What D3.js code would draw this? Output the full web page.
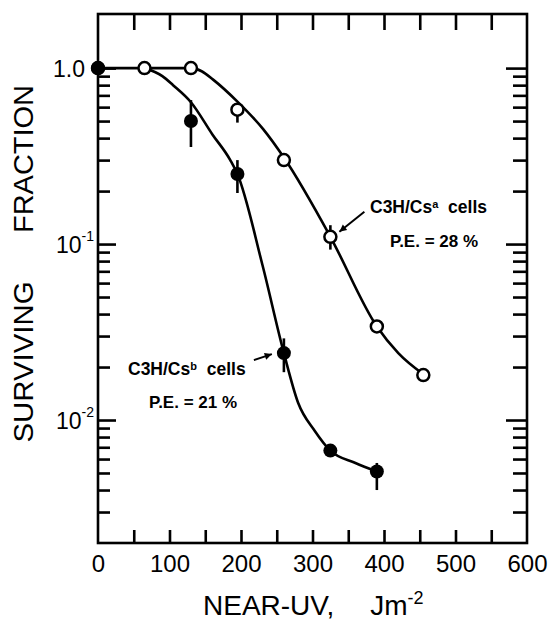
<!DOCTYPE html>
<html><head><meta charset="utf-8">
<script src="https://cdn.jsdelivr.net/npm/d3@7"></script>
<style>
html,body{margin:0;padding:0;background:#fff;}
svg{display:block;}
text{font-family:"Liberation Sans",Arial,sans-serif;fill:#000;}
</style></head>
<body>
<svg id="chart" width="548" height="621"></svg>
<script>
// ---- data ----
const dosesA = [0, 65, 130, 195, 260, 325, 390, 455];          // C3H/Csa (open)
const fracA  = [1.0, 1.0, 1.0, 0.58, 0.30, 0.110, 0.034, 0.018];
const errLoA = [null, null, null, 0.49, null, 0.093, null, null];
const errHiA = [null, null, null, 0.62, null, 0.128, null, null];

const dosesB = [0, 130, 195, 260, 325, 390];                    // C3H/Csb (filled)
const fracB  = [1.0, 0.50, 0.25, 0.024, 0.0067, 0.0051];
const errLoB = [null, 0.356, 0.195, 0.0187, null, 0.0040];
const errHiB = [null, 0.658, 0.30, 0.0291, null, 0.0057];

// hand-drawn fitted curves
const fitDoseA = [0, 130, 145, 161, 195, 231, 260, 325, 390, 420, 455];
const fitFracA = [1, 1, 0.96, 0.86, 0.645, 0.45, 0.31, 0.11, 0.034, 0.024, 0.0182];
const fitDoseB = [65, 90, 105, 130, 160, 185, 195, 230, 260, 280, 303, 325, 360, 390];
const fitFracB = [1, 0.9, 0.8, 0.64, 0.42, 0.30, 0.25, 0.076, 0.024, 0.0125, 0.0087, 0.0067, 0.0057, 0.0051];

const xTickMinor = [50, 100, 150, 200, 250, 300, 350, 400, 450, 500, 550];
const xTickLabels = [0, 100, 200, 300, 400, 500, 600];
const yDecades = [1, 0.1, 0.01];
const yDecadeLabels = [{base:"1.0", sup:""}, {base:"10", sup:"-1"}, {base:"10", sup:"-2"}];

// ---- layout ----
const W = 548, H = 621;
const m = {left: 98, right: 21, top: 14, bottom: 78};
const svg = d3.select("#chart");
const x = d3.scaleLinear().domain([0, 600]).range([m.left, W - m.right]);
const y = d3.scaleLog().domain([0.002, 2.03]).range([H - m.bottom, m.top]);
const x0 = x.range()[0], x1 = x.range()[1], y0 = y.range()[0], y1 = y.range()[1];

// minor log ticks
const yMinor = [];
[0.001, 0.01, 0.1].forEach(d => { for (let k = 2; k <= 9; k++) { const v = +(d * k).toPrecision(3); if (v > 0.0021 && v < 1) yMinor.push(v); } });

const SW = 2.6;
// frame
svg.append("rect").attr("x", x0).attr("y", y1).attr("width", x1 - x0).attr("height", y0 - y1)
  .attr("fill", "none").attr("stroke", "#000").attr("stroke-width", SW);

// x ticks (bottom, inward) and (top, inward)
const gxB = svg.append("g").attr("transform", `translate(0,${y0})`)
  .call(d3.axisBottom(x).tickValues(xTickMinor).tickSize(-13).tickFormat(""));
const gxT = svg.append("g").attr("transform", `translate(0,${y1})`)
  .call(d3.axisTop(x).tickValues(xTickMinor).tickSize(-16).tickFormat(""));
[gxB, gxT].forEach(g => { g.select(".domain").remove(); g.selectAll("line").attr("stroke", "#000").attr("stroke-width", SW); });

// x labels
const gxL = svg.append("g").attr("transform", `translate(0,${y0})`)
  .call(d3.axisBottom(x).tickValues(xTickLabels).tickSize(0).tickPadding(12).tickFormat(d3.format("d")));
gxL.select(".domain").remove();
gxL.selectAll("text").attr("font-size", 24).attr("font-family", '"Liberation Sans",Arial,sans-serif');

// y ticks left / right
function yTicks(axisFn, tx, major, minor) {
  const g1 = svg.append("g").attr("transform", `translate(${tx},0)`)
    .call(axisFn(y).tickValues(yDecades).tickSize(-major).tickFormat(""));
  const g2 = svg.append("g").attr("transform", `translate(${tx},0)`)
    .call(axisFn(y).tickValues(yMinor).tickSize(-minor).tickFormat(""));
  [g1, g2].forEach(g => { g.select(".domain").remove(); g.selectAll("line").attr("stroke", "#000").attr("stroke-width", SW); });
}
yTicks(d3.axisLeft, x0, 18, 12);
yTicks(d3.axisRight, x1, 21, 14);

// y labels
yDecades.forEach((v, i) => {
  const lab = yDecadeLabels[i];
  const t = svg.append("text").attr("x", lab.sup ? x0 - 4 : x0 - 13).attr("y", y(v) + 9)
    .attr("text-anchor", "end").attr("font-size", 23);
  t.append("tspan").text(lab.base);
  if (lab.sup) t.append("tspan").attr("font-size", 14).attr("dy", -12).text(lab.sup);
});

// axis titles
svg.append("text").attr("transform", `translate(33,362) rotate(-90)`)
  .attr("text-anchor", "middle").attr("font-size", 28).attr("textLength", 161).attr("lengthAdjust", "spacingAndGlyphs")
  .text("SURVIVING");
svg.append("text").attr("transform", `translate(33,159) rotate(-90)`)
  .attr("text-anchor", "middle").attr("font-size", 28).attr("textLength", 148).attr("lengthAdjust", "spacingAndGlyphs")
  .text("FRACTION");
const xt = svg.append("text").attr("x", 203).attr("y", 615).attr("font-size", 28);
xt.append("tspan").text("NEAR-UV,");
xt.append("tspan").attr("dx", 36).text("Jm");
xt.append("tspan").attr("font-size", 18).attr("dy", -11).text("-2");

// curves
const line = d3.line().x(d => x(d[0])).y(d => y(d[1])).curve(d3.curveMonotoneX);
svg.append("path").datum(d3.zip(fitDoseA, fitFracA)).attr("d", line)
  .attr("fill", "none").attr("stroke", "#000").attr("stroke-width", SW);
svg.append("path").datum(d3.zip(fitDoseB, fitFracB)).attr("d", line)
  .attr("fill", "none").attr("stroke", "#000").attr("stroke-width", SW);

// error bars
function errBars(doses, lo, hi) {
  svg.append("g").selectAll("line").data(doses.map((d, i) => [d, lo[i], hi[i]]).filter(d => d[1] != null))
    .join("line").attr("x1", d => x(d[0])).attr("x2", d => x(d[0]))
    .attr("y1", d => y(d[1])).attr("y2", d => y(d[2]))
    .attr("stroke", "#000").attr("stroke-width", SW);
}
errBars(dosesA, errLoA, errHiA);
errBars(dosesB, errLoB, errHiB);

// points
svg.append("g").selectAll("circle").data(d3.zip(dosesA, fracA)).join("circle")
  .attr("cx", d => x(d[0])).attr("cy", d => y(d[1])).attr("r", 6)
  .attr("fill", "#fff").attr("stroke", "#000").attr("stroke-width", 2.5);
svg.append("g").selectAll("circle").data(d3.zip(dosesB, fracB)).join("circle")
  .attr("cx", d => x(d[0])).attr("cy", d => y(d[1])).attr("r", 7)
  .attr("fill", "#000");

// annotations
function arrow(xa, ya, xb, yb) {
  svg.append("line").attr("x1", xa).attr("y1", ya).attr("x2", xb).attr("y2", yb)
    .attr("stroke", "#000").attr("stroke-width", 2);
  const ang = Math.atan2(yb - ya, xb - xa), L = 8, w = 0.45;
  const p = [[xb, yb], [xb - L * Math.cos(ang - w), yb - L * Math.sin(ang - w)], [xb - L * Math.cos(ang + w), yb - L * Math.sin(ang + w)]];
  svg.append("path").attr("d", "M" + p.join("L") + "Z").attr("fill", "#000");
}
const pA = [x(325), y(0.110)];
arrow(pA[0] + 34, pA[1] - 25, pA[0] + 9, pA[1] - 5);
const tA = svg.append("text").attr("x", 370).attr("y", 213).attr("font-size", 17.5).attr("font-weight", "bold");
tA.append("tspan").text("C3H/Cs");
tA.append("tspan").attr("font-size", 11).attr("dy", -5).text("a");
tA.append("tspan").attr("dy", 5).text("\u00a0 cells");
svg.append("text").attr("x", 390).attr("y", 247).attr("font-size", 17).attr("font-weight", "bold").text("P.E. = 28 %");

const pB = [x(260), y(0.024)];
arrow(pB[0] - 30, pB[1] + 7, pB[0] - 12, pB[1] + 1);
const tB = svg.append("text").attr("x", 128).attr("y", 375).attr("font-size", 17.5).attr("font-weight", "bold");
tB.append("tspan").text("C3H/Cs");
tB.append("tspan").attr("font-size", 11).attr("dy", -5).text("b");
tB.append("tspan").attr("dy", 5).text("\u00a0 cells");
svg.append("text").attr("x", 149).attr("y", 408).attr("font-size", 17).attr("font-weight", "bold").text("P.E. = 21 %");
</script>
</body></html>
